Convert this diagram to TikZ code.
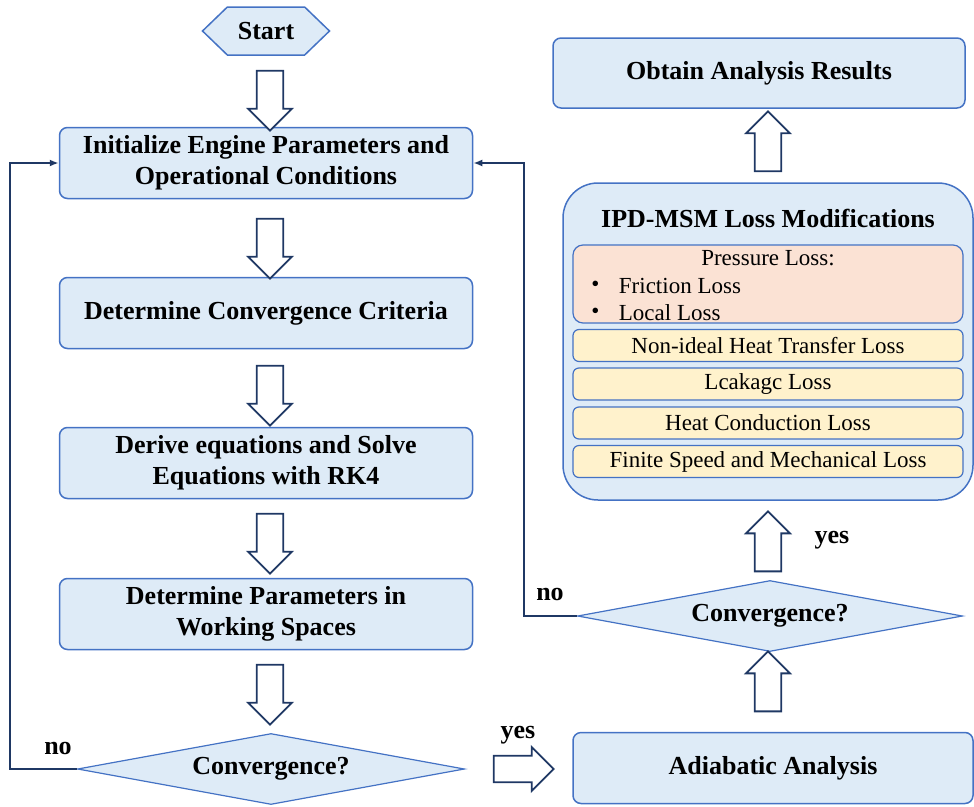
\documentclass[tikz,border=0pt]{standalone}
\usepackage{fontspec}
\setmainfont{Liberation Serif}
\usetikzlibrary{shapes.geometric,shapes.arrows,shapes.symbols,arrows.meta,calc}
\definecolor{flowfill}{RGB}{222,235,247}
\definecolor{flowline}{RGB}{68,114,196}
\definecolor{flownavy}{RGB}{31,56,100}
\definecolor{losspink}{RGB}{251,226,212}
\definecolor{lossgold}{RGB}{255,242,204}

\begin{document}
\begin{tikzpicture}[x=1pt,y=-1pt,
  box/.style={draw=flowline,fill=flowfill,line width=1.5pt,rounded corners=8pt,minimum width=413pt,minimum height=71pt,inner sep=0pt,align=center,font=\fontsize{26}{31}\selectfont\bfseries},
  decide/.style={diamond,draw=flowline,fill=flowfill,line width=1.2pt,aspect=5.45,inner sep=0pt,minimum width=387pt,minimum height=71pt,font=\fontsize{26}{31}\selectfont\bfseries},
  loss/.style={draw=flowline,fill=lossgold,line width=1.2pt,rounded corners=6pt,minimum width=390pt,minimum height=32pt,inner sep=0pt,font=\fontsize{23}{27}\selectfont},
  hollow/.style={single arrow,draw=flownavy,fill=white,line width=1.8pt,minimum width=44pt,minimum height=60pt,inner xsep=0pt,inner ysep=10pt},
  link/.style={draw=flownavy,line width=2pt,-{Latex[length=9pt,width=7pt]}},
  tag/.style={font=\fontsize{26}{31}\selectfont\bfseries}]
  \useasboundingbox (0,0) rectangle (974,806);

  % left column
  \node[signal,signal to=east and west,signal pointer angle=88,draw=flowline,fill=flowfill,line width=1.5pt,minimum width=127pt,minimum height=48pt,inner sep=0pt,font=\fontsize{26}{31}\selectfont\bfseries] (start) at (266,31) {Start};
  \node[box] (init) at (266,163) {Initialize Engine Parameters and\\Operational Conditions};
  \node[box] (crit) at (266,313) {Determine Convergence Criteria};
  \node[box] (rk4) at (266,463) {Derive equations and Solve\\Equations with RK4};
  \node[box] (params) at (266,614) {Determine Parameters in\\Working Spaces};
  \node[decide] (conv1) at (271,769) {Convergence?};

  \node[hollow,rotate=270] (a1) at (270,94) {};
  \node[hollow,rotate=270] (a2) at (270,242) {};
  \node[hollow,rotate=270] (a3) at (270,389) {};
  \node[hollow,rotate=270] (a4) at (270,537) {};
  \node[hollow,rotate=270] (a5) at (270,688) {};

  % right column
  \node[box,minimum width=400pt] (adia) at (773,768) {Adiabatic Analysis};
  \node[decide,minimum width=385pt] (conv2) at (770,616) {Convergence?};
  \node[draw=flowline,fill=flowfill,line width=1.5pt,rounded corners=35pt,minimum width=410pt,minimum height=317pt] (lossbox) at (768,341.5) {};
  \node[tag] (losstitle) at (768,218) {IPD-MSM Loss Modifications};
  \node[loss,fill=losspink,rounded corners=10pt,minimum height=78pt] (press) at (768,284) {};
  \node[font=\fontsize{23}{27}\selectfont] (presshead) at ($(press.north)+(0,14)$) {Pressure Loss:};
  \node[font=\fontsize{23}{27}\selectfont,anchor=west] (fric) at ($(press.west)+(43,2)$) {Friction Loss};
  \node[font=\fontsize{23}{27}\selectfont,anchor=west] (local) at ($(press.west)+(43,29)$) {Local Loss};
  \node[font=\fontsize{23}{27}\selectfont] (b1) at ($(press.west)+(23,2)$) {•};
  \node[font=\fontsize{23}{27}\selectfont] (b2) at ($(press.west)+(23,29)$) {•};
  \node[loss] (nonideal) at (768,345.5) {Non-ideal Heat Transfer Loss};
  \node[loss] (leak) at (768,384) {Lcakagc Loss};
  \node[loss] (heatc) at (768,423) {Heat Conduction Loss};
  \node[loss] (finite) at (768,461.5) {Finite Speed and Mechanical Loss};
  \node[box,minimum width=412pt,minimum height=70pt] (result) at (759,73) {Obtain Analysis Results};

  \node[hollow] (yesarrow) at (517,769) {};
  \node[hollow,rotate=90] (a6) at (768,688) {};
  \node[hollow,rotate=90] (a7) at (768,548) {};
  \node[hollow,rotate=90] (a8) at (768,148) {};

  % loop-back connectors
  \coordinate (backL) at (10,769);
  \coordinate (backR) at (524,616);
  \draw[link] (conv1.west) -- (backL) |- (init.west);
  \draw[link] (conv2.west) -- (backR) |- (init.east);

  \node[tag] (no1) at (58,748) {no};
  \node[tag] (yes1) at (518,735) {yes};
  \node[tag] (no2) at (550,594) {no};
  \node[tag] (yes2) at (832,540) {yes};
\end{tikzpicture}
\end{document}
